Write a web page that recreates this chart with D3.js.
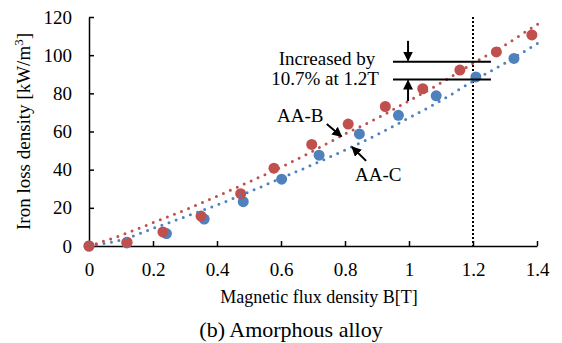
<!DOCTYPE html>
<html>
<head>
<meta charset="utf-8">
<script src="https://cdn.jsdelivr.net/npm/d3@7"></script>
<style>
  body { margin: 0; background: #fff; }
  svg text { font-family: "Liberation Serif", "Times New Roman", serif; fill: #000; }
</style>
</head>
<body>
<svg width="562" height="343"></svg>
<script>
// measured points, AA-B (red) and AA-C (blue)
var bB = [0, 0.119, 0.231, 0.35, 0.474, 0.578, 0.696, 0.81, 0.926, 1.043, 1.159, 1.273, 1.384];
var wB = [0, 2.0, 7.4, 15.7, 27.4, 40.8, 53.2, 63.9, 73.1, 82.4, 92.2, 101.7, 110.6];
var bC = [0, 0.118, 0.242, 0.36, 0.482, 0.602, 0.719, 0.845, 0.967, 1.085, 1.209, 1.328];
var wC = [0, 1.6, 6.5, 14.1, 23.2, 35.0, 47.6, 58.7, 68.5, 78.7, 88.6, 98.3];

// dotted trend lines
var trendX = [0, 0.1, 0.2, 0.3, 0.4, 0.5, 0.6, 0.7, 0.8, 0.9, 1.0, 1.1, 1.2, 1.3, 1.4, 1.42];
var trendB = [0, 5.6, 12.2, 18.9, 26.1, 33.6, 41.3, 49.8, 58.7, 66.9, 76.1, 85.5, 95.7, 105.3, 116, 118];
var trendC = [0, 3.2, 9.2, 15.3, 21.5, 28.3, 35.5, 42.7, 50.3, 58.3, 67.2, 76.2, 86.4, 95.9, 106, 108];

var xTicks = [0, 0.2, 0.4, 0.6, 0.8, 1.0, 1.2, 1.4];
var xTickLabels = ["0", "0.2", "0.4", "0.6", "0.8", "1", "1.2", "1.4"];
var yTicks = [0, 20, 40, 60, 80, 100, 120];

var red = "#C0504D", blue = "#4F81BD";

var svg = d3.select("svg");
var margin = {left: 89, right: 25, top: 17, bottom: 97};
var W = 562, H = 343;

var x = d3.scaleLinear().domain([0, 1.4]).range([margin.left, W - margin.right]);
var y = d3.scaleLinear().domain([0, 120]).range([H - margin.bottom, margin.top]);

// arrowhead
svg.append("defs").append("marker")
   .attr("id", "head")
   .attr("viewBox", "0 0 10 10")
   .attr("refX", 9).attr("refY", 5)
   .attr("markerWidth", 5).attr("markerHeight", 5)
   .attr("markerUnits", "strokeWidth")
   .attr("orient", "auto")
   .append("path").attr("d", "M0,0 L10,5 L0,10 Z").attr("fill", "#000");

// axes
var xAxis = svg.append("g")
   .attr("transform", "translate(0," + y(0) + ")")
   .call(d3.axisBottom(x).tickValues(xTicks).tickFormat((d, i) => xTickLabels[i])
          .tickSizeInner(-5).tickSizeOuter(0).tickPadding(16.5));
var yAxis = svg.append("g")
   .attr("transform", "translate(" + x(0) + ",0)")
   .call(d3.axisLeft(y).tickValues(yTicks).tickFormat(d3.format("d"))
          .tickSizeInner(-5).tickSizeOuter(0).tickPadding(17));
[xAxis, yAxis].forEach(function(g) {
  g.selectAll("path, line").attr("stroke", "#000").attr("stroke-width", 1.5);
  g.selectAll("text").style("font-size", "19px")
   .style("font-family", '"Liberation Serif", serif');
});

// vertical dotted line at 1.2 T
svg.append("line")
   .attr("x1", x(1.2)).attr("x2", x(1.2))
   .attr("y1", y(120)).attr("y2", y(0))
   .attr("stroke", "#000").attr("stroke-width", 2)
   .attr("stroke-dasharray", "2,2");

// points
function dots(bs, ws, color) {
  svg.append("g").selectAll("circle")
     .data(bs.map((b, i) => [b, ws[i]]))
     .enter().append("circle")
     .attr("cx", d => x(d[0]))
     .attr("cy", d => y(d[1]))
     .attr("r", 5.5)
     .attr("fill", color);
}
dots(bC, wC, blue);
dots(bB, wB, red);

// trend lines
var line = d3.line().x(d => x(d[0])).y(d => y(d[1])).curve(d3.curveMonotoneX);
function trend(vals, color) {
  svg.append("path")
     .datum(trendX.map((b, i) => [b, vals[i]]))
     .attr("d", line)
     .attr("fill", "none")
     .attr("stroke", color)
     .attr("stroke-width", 3)
     .attr("stroke-linecap", "round")
     .attr("stroke-dasharray", "0,7.6");
}
trend(trendC, blue);
trend(trendB, red);

// increase annotation
var hi = 96.6, lo = 87.3;
[hi, lo].forEach(function(v) {
  svg.append("line")
     .attr("x1", x(0.95)).attr("x2", x(1.256))
     .attr("y1", y(v)).attr("y2", y(v))
     .attr("stroke", "#000").attr("stroke-width", 2);
});
function arrow(x1, y1, x2, y2) {
  svg.append("line")
     .attr("x1", x(x1)).attr("y1", y(y1))
     .attr("x2", x(x2)).attr("y2", y(y2))
     .attr("stroke", "#000").attr("stroke-width", 2)
     .attr("marker-end", "url(#head)");
}
arrow(0.997, 107.5, 0.997, hi + 0.6);
arrow(0.997, 76, 0.997, lo - 0.6);
arrow(0.743, 63.9, 0.789, 57.4);
arrow(0.866, 44.6, 0.822, 51.9);

svg.append("text").attr("x", 327).attr("y", 65).attr("text-anchor", "middle")
   .style("font-size", "19px").text("Increased by");
svg.append("text").attr("x", 325).attr("y", 85).attr("text-anchor", "middle")
   .style("font-size", "19px").text("10.7% at 1.2T");
svg.append("text").attr("x", 277).attr("y", 122)
   .style("font-size", "19px").text("AA-B");
svg.append("text").attr("x", 355).attr("y", 181)
   .style("font-size", "19px").text("AA-C");

// axis titles
svg.append("text").attr("x", 319).attr("y", 303).attr("text-anchor", "middle")
   .style("font-size", "18px").text("Magnetic flux density B[T]");
var yt = svg.append("text")
   .attr("transform", "translate(30,131.5) rotate(-90)")
   .attr("text-anchor", "middle")
   .style("font-size", "19px");
yt.append("tspan").text("Iron loss density [kW/m");
yt.append("tspan").attr("dy", -7).style("font-size", "13px").text("3");
yt.append("tspan").attr("dy", 7).text("]");

svg.append("text").attr("x", 291).attr("y", 337).attr("text-anchor", "middle")
   .style("font-size", "22px").text("(b) Amorphous alloy");
</script>
</body>
</html>
